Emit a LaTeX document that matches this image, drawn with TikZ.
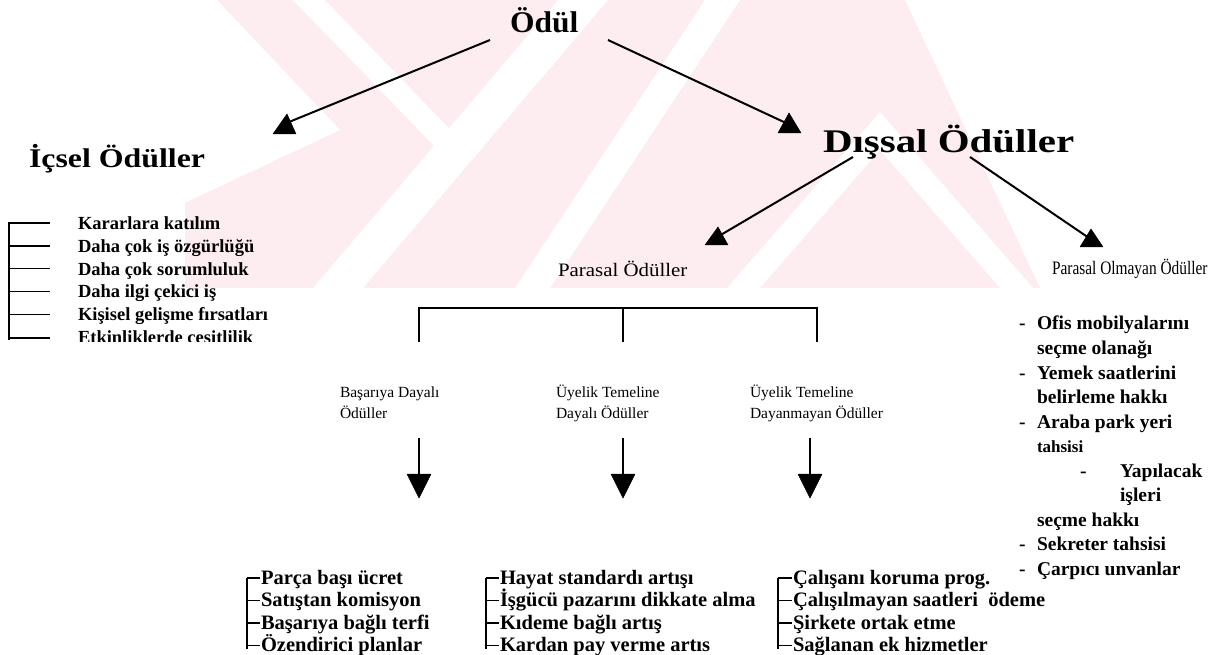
\documentclass[tikz,border=0pt]{standalone}
\usepackage{fontspec}
\setmainfont{Liberation Serif}
\usepackage{graphicx}
\definecolor{wm}{RGB}{253,236,240}
\newcommand{\fs}[1]{\fontsize{#1}{#1}\selectfont}
\newcommand{\hs}[2]{\scalebox{#1}[1]{#2}}
\begin{document}
\begin{tikzpicture}[x=1pt,y=-1pt,
  lbl/.style={inner sep=0pt, outer sep=0pt, anchor=base west},
  conn/.style={line width=2pt},
  thinline/.style={line width=1.4pt},
  headfill/.style={fill=black, draw=black, line width=0.5pt, line join=round},
  llist/.style={lbl, font=\fs{18.5}\bfseries},
  rlist/.style={lbl, font=\fs{19.5}\bfseries},
  blist/.style={lbl, font=\fs{20.5}\bfseries},
  catlbl/.style={lbl, font=\fs{15.5}}]
\useasboundingbox (0,0) rectangle (1211,655);
% ---------------- watermark ----------------
\begin{scope}
\clip (185,0) -- (905,0) -- (1040,288) -- (185,288) -- cycle;
\fill[wm] (180,0) rectangle (1045,288);
\fill[white] (180,0) -- (217,0) -- (340,130) -- (180,205) -- cycle;
\fill[white] (293,0) -- (325,0) -- (470,150) -- (438,150) -- cycle;
\fill[white] (558,0) -- (608,0) -- (363,288) -- (313,288) -- cycle;
\fill[white] (705,0) -- (740,0) -- (550,288) -- (515,288) -- cycle;
\fill[white] (880,112) -- (1033,288) -- (1000,288) -- (880,150) -- (760,288) -- (727,288) -- cycle;
\end{scope}
% ---------------- headings ----------------
\node[lbl] (odul) at (510,33) {\fs{30}\bfseries\hs{1.05}{Ödül}};
\node[lbl] (icsel) at (29,168) {\fs{27}\bfseries\hs{1.18}{İçsel Ödüller}};
\node[lbl] (dissal) at (823,153) {\fs{33}\bfseries\hs{1.24}{Dışsal Ödüller}};
\node[lbl] (parasal) at (558,277) {\fs{19}\hs{1.1}{Parasal Ödüller}};
\node[lbl] (olmayan) at (1052,275) {\fs{19}\hs{0.81}{Parasal Olmayan Ödüller}};
% arrow ends
\coordinate (odulL) at (490,40);
\coordinate (odulR) at (608,40);
\coordinate (dissalL) at (853,157);
\coordinate (dissalR) at (970,157);
\coordinate (t1) at (273,134);
\coordinate (t2) at (801,133);
\coordinate (t3) at (705,245);
\coordinate (t4) at (1103,247);
\coordinate (e1) at (289,122);
\coordinate (e2) at (786,123);
\coordinate (e3) at (719,236);
\coordinate (e4) at (1089,238);
\draw[conn] (odulL) -- (e1);
\draw[conn] (odulR) -- (e2);
\draw[conn] (dissalL) -- (e3);
\draw[conn] (dissalR) -- (e4);
\filldraw[headfill] (t1) -- ++(23,0) -- ++(-9,-20) -- cycle;
\filldraw[headfill] (t2) -- ++(-23,0) -- ++(11,-20) -- cycle;
\filldraw[headfill] (t3) -- ++(23,0) -- ++(-10,-18) -- cycle;
\filldraw[headfill] (t4) -- ++(-23,0) -- ++(11,-18) -- cycle;
% ---------------- left list ----------------
\foreach \i/\t in {0/Kararlara katılım, 1/Daha çok iş özgürlüğü, 2/Daha çok sorumluluk, 3/Daha ilgi çekici iş, 4/Kişisel gelişme fırsatları}{
  \node[llist] (ic\i) at (78,230+22.6*\i) {\t};
  \draw[thinline] (9,223+22.9*\i) -- (50,223+22.9*\i);
}
\begin{scope}
\clip (0,0) rectangle (400,341);
\node[llist] (ic5) at (78,343) {Etkinliklerde çeşitlilik};
\end{scope}
\draw[thinline] (9,338) -- (50,338);
\draw[thinline] (9,222) -- (9,340);
% ---------------- bracket ----------------
\coordinate (bl) at (419,342);
\coordinate (bm) at (623,342);
\coordinate (br) at (817,342);
\coordinate (btop) at (623,308);
\draw[thinline] (bl) |- (btop) -| (br);
\draw[thinline] (bm) -- (btop);
% ---------------- category labels ----------------
\node[catlbl] (c1) at (340,397) {Başarıya Dayalı};
\node[catlbl] at (340,418) {Ödüller};
\node[catlbl] (c2) at (556,397) {Üyelik Temeline};
\node[catlbl] at (556,418) {Dayalı Ödüller};
\node[catlbl] (c3) at (750,397) {Üyelik Temeline};
\node[catlbl] at (750,418) {Dayanmayan Ödüller};
% ---------------- down arrows ----------------
\foreach \x/\n in {419/d1, 623/d2, 810/d3}{
  \coordinate (\n s) at (\x,438);
  \coordinate (\n e) at (\x,476);
  \draw[thinline] (\n s) -- (\n e);
  \filldraw[headfill] (\x-12,474) -- (\x+12,474) -- (\x,498) -- cycle;
}
% ---------------- bottom lists ----------------
\foreach \i/\t in {0/Parça başı ücret, 1/Satıştan komisyon, 2/Başarıya bağlı terfi, 3/Özendirici planlar}{
  \node[blist] at (261,584+22.5*\i) {\t};
  \draw[thinline] (247,578+22.5*\i) -- (260,578+22.5*\i);
}
\draw[thinline] (247,578) -- (247,649);
\foreach \i/\t in {0/Hayat standardı artışı, 1/İşgücü pazarını dikkate alma, 2/Kıdeme bağlı artış, 3/Kardan pay verme artıs}{
  \node[blist] at (500,584+22.5*\i) {\t};
  \draw[thinline] (486,578+22.5*\i) -- (499,578+22.5*\i);
}
\draw[thinline] (486,578) -- (486,649);
\foreach \i/\t in {0/Çalışanı koruma prog., 1/Çalışılmayan saatleri \ ödeme, 2/Şirkete ortak etme, 3/Sağlanan ek hizmetler}{
  \node[blist] at (793,584+22.5*\i) {\t};
  \draw[thinline] (778,578+22.5*\i) -- (792,578+22.5*\i);
}
\draw[thinline] (778,578) -- (778,649);
% ---------------- right list ----------------
\foreach \y/\t in {330/Ofis mobilyalarını, 379/Yemek saatlerini, 428/Araba park yeri, 550.5/Sekreter tahsisi, 575/Çarpıcı unvanlar}{
  \node[rlist] at (1037,\y) {\t};
  \node[rlist] at (1019,\y) {-};
}
\node[rlist] at (1037,354.5) {seçme olanağı};
\node[rlist] at (1037,403.5) {belirleme hakkı};
\node[lbl, font=\fs{17}\bfseries] at (1037,452.5) {tahsisi};
\node[rlist] at (1080,477) {-};
\node[rlist] at (1120,477) {Yapılacak};
\node[rlist] at (1120,501.5) {işleri};
\node[rlist] at (1037,526) {seçme hakkı};
\end{tikzpicture}
\end{document}
